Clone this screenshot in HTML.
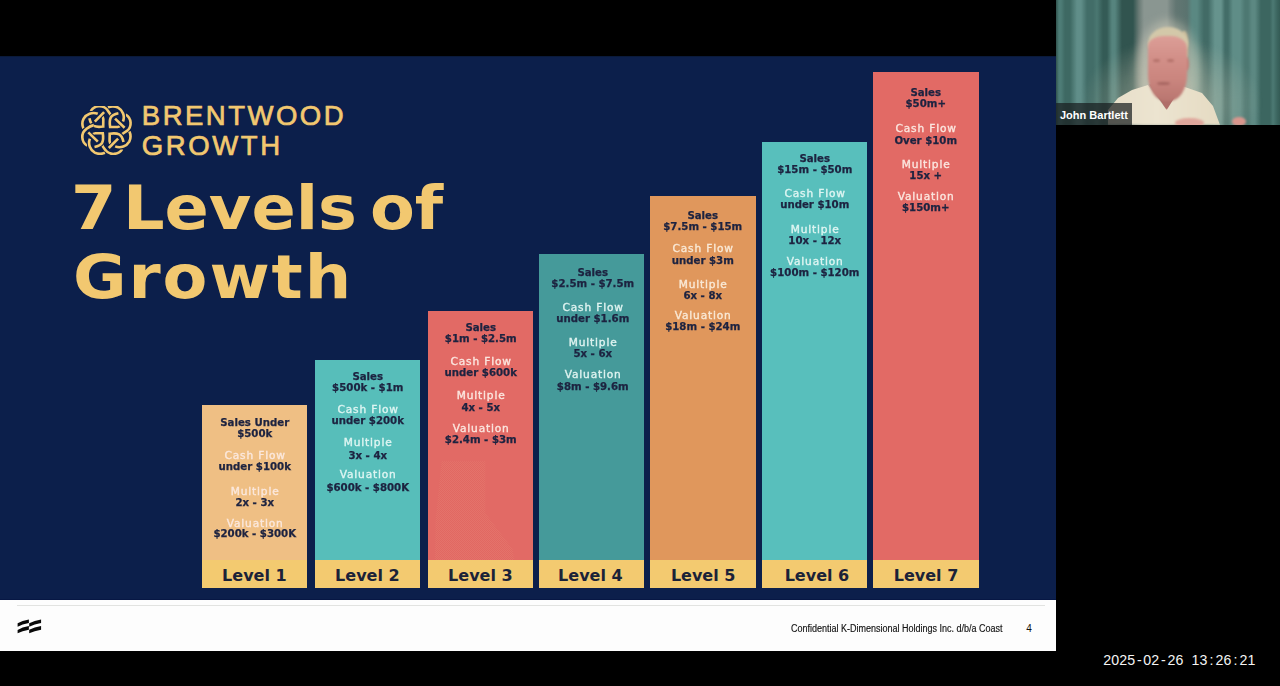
<!DOCTYPE html>
<html lang="en">
<head>
<meta charset="utf-8">
<title>7 Levels of Growth</title>
<style>
html,body{margin:0;padding:0}
body{width:1280px;height:686px;overflow:hidden;position:relative;background:#000;font-family:"Liberation Sans","DejaVu Sans",sans-serif}
.slide{position:absolute;left:0;top:56px;width:1056px;height:544px;background:#0c1f4b}
.footer{position:absolute;left:0;top:600px;width:1056px;height:51px;background:#fdfdfd}
.footer .rule{position:absolute;left:17px;top:5px;width:1028px;height:1px;background:#e2e3e1}
.footer .txt{position:absolute;left:791px;top:22.5px;font-size:10px;line-height:12px;color:#111;white-space:nowrap;transform:scaleX(0.9);transform-origin:0 0;-webkit-text-stroke:0.15px #111}
.footer .pg{position:absolute;left:1026.3px;top:22.5px;font-size:10px;line-height:12px;color:#111}
.bar{position:absolute;width:105.5px}
.bar div{position:absolute;left:0;width:100%;text-align:center;font-family:"DejaVu Sans",sans-serif;font-weight:bold;font-size:10.5px;line-height:12px;height:12px;white-space:nowrap}
.bar .v{color:#1d2340;font-size:9.8px;transform:scaleX(1.04);-webkit-text-stroke:0.25px #1d2340}
.bar .lb{color:#f6efe6;font-weight:normal;font-size:10px;letter-spacing:0.8px;text-indent:0.8px;-webkit-text-stroke:0.35px #f6efe6;transform:scaleX(1.06)}
.bar .ghost{position:absolute;left:0;top:0;width:100%;height:100%;background:repeating-conic-gradient(#e16862 0 25%,#e4736b 0 50%) 0 0/2px 2px;clip-path:polygon(14px 150px,57.7px 150px,57.7px 202px,85px 238px,86.5px 248.8px,7.5px 248.8px,8px 210px)}
.bar .band{position:absolute;left:0;bottom:0;top:auto;height:28px;background:#f3ca70;font-family:"DejaVu Sans",sans-serif;font-size:16px;line-height:32px;color:#1b2238}
.title{position:absolute;transform:scaleX(1.07);transform-origin:0 0;left:73px;font-family:"DejaVu Sans",sans-serif;font-weight:bold;font-size:61px;line-height:70px;color:#f2c870;white-space:nowrap}
.brand{position:absolute;left:141.8px;font-family:"Liberation Sans",sans-serif;font-size:27.5px;line-height:30px;color:#f2c870;white-space:nowrap;-webkit-text-stroke:0.7px #f2c870}
.cam{position:absolute;left:1056px;top:0;width:224px;height:125px;overflow:hidden;background:#44716b}
.cam .curt{position:absolute;inset:0;background:linear-gradient(to right,#31534e 0px,#4d7c76 3px,#4d7c76 5px,#3e6963 9px,#3e6963 14px,#608e89 21px,#608e89 25px,#426d68 31px,#426d68 37px,#4a7771 41px,#345b56 47px,#345b56 51px,#56847e 56px,#56847e 59px,#31544f 66px,#31544f 77px,#6a7b76 83px,#8a9691 88px,#8a9691 111px,#7a8884 114px,#627672 120px,#5a736f 131px,#5a8882 136px,#5a8882 141px,#426b66 148px,#426b66 152px,#66938d 159px,#66938d 165px,#436d68 169px,#436d68 172px,#5f8d87 177px,#5f8d87 184px,#4d7872 189px,#4d7872 192px,#5c8882 196px,#5c8882 199px,#3c6660 205px,#3c6660 214px,#4c7973 217px,#3c6660 221px,#345b55 224px);filter:blur(0.6px)}
.cam .glow{position:absolute;left:25px;top:25px;width:180px;height:130px;background:radial-gradient(ellipse 50% 50% at 50% 60%,rgba(210,205,185,0.7) 0%,rgba(195,195,175,0.35) 50%,rgba(190,190,170,0) 100%);filter:blur(2px)}
.cam .halo{position:absolute;left:80px;top:20px;width:64px;height:100px;border-radius:50%;background:rgba(215,210,190,0.45);filter:blur(5px)}
.cam .hair{position:absolute;left:92px;top:27px;width:40px;height:26px;border-radius:50% 50% 40% 40%/65% 65% 35% 35%;background:#d3c8a9;filter:blur(1px)}
.cam .hair2{position:absolute;left:124px;top:31px;width:8px;height:30px;border-radius:40%;background:#c8bb9a;filter:blur(0.9px)}
.cam .face{position:absolute;left:91.5px;top:35.5px;width:39px;height:65px;border-radius:40% 42% 45% 45%/16% 18% 40% 40%;background:linear-gradient(#dc9e97 0%,#d28f88 35%,#cb867f 65%,#b97670 100%);filter:blur(0.9px)}
.cam .ear{position:absolute;left:127px;top:57px;width:6px;height:14px;border-radius:50%;background:#c48079;filter:blur(0.8px)}
.cam .eye{position:absolute;width:7px;height:3px;border-radius:50%;background:#a8665f;opacity:0.7;filter:blur(1px)}
.cam .mouth{position:absolute;left:101px;top:82px;width:13px;height:2.5px;border-radius:50%;background:#9c5c58;opacity:0.7;filter:blur(0.8px)}
.cam .neck{position:absolute;left:93px;top:84px;width:34px;height:26px;background:#b06e69;clip-path:polygon(0 0,100% 0,52% 100%);filter:blur(0.8px)}
.cam .shirt{position:absolute;left:0;top:0;width:224px;height:125px;background:linear-gradient(to right,#e3d9c2 0%,#ece4d0 45%,#e6dcc4 70%,#dccfb3 100%);clip-path:polygon(52px 110px,62px 98px,76px 90px,92px 85px,110px 109px,126px 86px,146px 93px,157px 106px,164px 125px,52px 125px);filter:blur(0.8px)}
.cam .hand{position:absolute;border-radius:50%;background:#d9968d;filter:blur(1.2px)}
.name{position:absolute;left:0;top:103px;width:76px;height:22px;background:rgba(25,30,32,0.72)}
.name span{position:absolute;left:4px;top:4.5px;font-family:"Liberation Sans",sans-serif;font-weight:bold;font-size:11px;line-height:14px;color:#fff;white-space:nowrap}
.ts{position:absolute;left:1103.2px;top:650.5px;font-family:"Liberation Sans",sans-serif;font-size:14.2px;line-height:18px;color:#f4f4f4;white-space:nowrap}
.ts span{display:inline-block;width:8.02px;text-align:center}
</style>
</head>
<body>
<div class="slide"></div>
<div class="slide-top" style="position:absolute;left:0;top:56px;width:1056px;height:1px;background:#0a1a3a"></div>
<div class="slide-edge" style="position:absolute;left:0;top:599px;width:1056px;height:1px;background:#071744"></div>

<!-- logo knot -->
<svg style="position:absolute;left:79.6px;top:106.4px" width="53" preserveAspectRatio="none" height="48.3" viewBox="-26.1 -24.1 52.3 48.3" fill="none" stroke="#f2c870" stroke-width="2.6" stroke-linecap="butt"><g transform="rotate(0)"><path d="M -15.5 -19 C -12 -25 -3 -25.5 1 -20 C 3 -17.5 4.5 -15.5 5 -12.5" stroke="#0c1f4b" stroke-width="4.6"/><path d="M -15.5 -19 C -12 -25 -3 -25.5 1 -20 C 3 -17.5 4.5 -15.5 5 -12.5"/><path d="M -8.6 -16.3 C -14 -18.5 -20 -16 -22.5 -11.5 C -24.5 -7.5 -24 -4.5 -22.7 -1.5" stroke="#0c1f4b" stroke-width="4.6"/><path d="M -8.6 -16.3 C -14 -18.5 -20 -16 -22.5 -11.5 C -24.5 -7.5 -24 -4.5 -22.7 -1.5"/><path d="M -16.8 -11.8 C -16 -8 -15 -5.5 -12.5 -4.2 C -10 -3 -6 -3.2 -3.2 -3.6 L -3.1 -11 C -3.2 -12.5 -3.8 -13.5 -4.8 -14.3" stroke="#0c1f4b" stroke-width="4.6"/><path d="M -16.8 -11.8 C -16 -8 -15 -5.5 -12.5 -4.2 C -10 -3 -6 -3.2 -3.2 -3.6 L -3.1 -11 C -3.2 -12.5 -3.8 -13.5 -4.8 -14.3"/><path d="M -11.5 -8.5 L -2.3 -17.9" stroke="#0c1f4b" stroke-width="4.6"/><path d="M -11.5 -8.5 L -2.3 -17.9"/></g><g transform="rotate(90)"><path d="M -15.5 -19 C -12 -25 -3 -25.5 1 -20 C 3 -17.5 4.5 -15.5 5 -12.5" stroke="#0c1f4b" stroke-width="4.6"/><path d="M -15.5 -19 C -12 -25 -3 -25.5 1 -20 C 3 -17.5 4.5 -15.5 5 -12.5"/><path d="M -8.6 -16.3 C -14 -18.5 -20 -16 -22.5 -11.5 C -24.5 -7.5 -24 -4.5 -22.7 -1.5" stroke="#0c1f4b" stroke-width="4.6"/><path d="M -8.6 -16.3 C -14 -18.5 -20 -16 -22.5 -11.5 C -24.5 -7.5 -24 -4.5 -22.7 -1.5"/><path d="M -16.8 -11.8 C -16 -8 -15 -5.5 -12.5 -4.2 C -10 -3 -6 -3.2 -3.2 -3.6 L -3.1 -11 C -3.2 -12.5 -3.8 -13.5 -4.8 -14.3" stroke="#0c1f4b" stroke-width="4.6"/><path d="M -16.8 -11.8 C -16 -8 -15 -5.5 -12.5 -4.2 C -10 -3 -6 -3.2 -3.2 -3.6 L -3.1 -11 C -3.2 -12.5 -3.8 -13.5 -4.8 -14.3"/><path d="M -11.5 -8.5 L -2.3 -17.9" stroke="#0c1f4b" stroke-width="4.6"/><path d="M -11.5 -8.5 L -2.3 -17.9"/></g><g transform="rotate(180)"><path d="M -15.5 -19 C -12 -25 -3 -25.5 1 -20 C 3 -17.5 4.5 -15.5 5 -12.5" stroke="#0c1f4b" stroke-width="4.6"/><path d="M -15.5 -19 C -12 -25 -3 -25.5 1 -20 C 3 -17.5 4.5 -15.5 5 -12.5"/><path d="M -8.6 -16.3 C -14 -18.5 -20 -16 -22.5 -11.5 C -24.5 -7.5 -24 -4.5 -22.7 -1.5" stroke="#0c1f4b" stroke-width="4.6"/><path d="M -8.6 -16.3 C -14 -18.5 -20 -16 -22.5 -11.5 C -24.5 -7.5 -24 -4.5 -22.7 -1.5"/><path d="M -16.8 -11.8 C -16 -8 -15 -5.5 -12.5 -4.2 C -10 -3 -6 -3.2 -3.2 -3.6 L -3.1 -11 C -3.2 -12.5 -3.8 -13.5 -4.8 -14.3" stroke="#0c1f4b" stroke-width="4.6"/><path d="M -16.8 -11.8 C -16 -8 -15 -5.5 -12.5 -4.2 C -10 -3 -6 -3.2 -3.2 -3.6 L -3.1 -11 C -3.2 -12.5 -3.8 -13.5 -4.8 -14.3"/><path d="M -11.5 -8.5 L -2.3 -17.9" stroke="#0c1f4b" stroke-width="4.6"/><path d="M -11.5 -8.5 L -2.3 -17.9"/></g><g transform="rotate(270)"><path d="M -15.5 -19 C -12 -25 -3 -25.5 1 -20 C 3 -17.5 4.5 -15.5 5 -12.5" stroke="#0c1f4b" stroke-width="4.6"/><path d="M -15.5 -19 C -12 -25 -3 -25.5 1 -20 C 3 -17.5 4.5 -15.5 5 -12.5"/><path d="M -8.6 -16.3 C -14 -18.5 -20 -16 -22.5 -11.5 C -24.5 -7.5 -24 -4.5 -22.7 -1.5" stroke="#0c1f4b" stroke-width="4.6"/><path d="M -8.6 -16.3 C -14 -18.5 -20 -16 -22.5 -11.5 C -24.5 -7.5 -24 -4.5 -22.7 -1.5"/><path d="M -16.8 -11.8 C -16 -8 -15 -5.5 -12.5 -4.2 C -10 -3 -6 -3.2 -3.2 -3.6 L -3.1 -11 C -3.2 -12.5 -3.8 -13.5 -4.8 -14.3" stroke="#0c1f4b" stroke-width="4.6"/><path d="M -16.8 -11.8 C -16 -8 -15 -5.5 -12.5 -4.2 C -10 -3 -6 -3.2 -3.2 -3.6 L -3.1 -11 C -3.2 -12.5 -3.8 -13.5 -4.8 -14.3"/><path d="M -11.5 -8.5 L -2.3 -17.9" stroke="#0c1f4b" stroke-width="4.6"/><path d="M -11.5 -8.5 L -2.3 -17.9"/></g></svg>
<div class="brand" style="top:101.2px;letter-spacing:2.5px">BRENTWOOD</div>
<div class="brand" style="top:130.6px;letter-spacing:2.6px">GROWTH</div>

<div class="title" style="top:172.7px;left:71.4px">7</div>
<div class="title" style="top:172.7px;left:123.1px;letter-spacing:0px">Levels</div>
<div class="title" style="top:172.7px;left:369.7px;letter-spacing:0px">of</div>
<div class="title" style="top:242.3px;left:72.8px;letter-spacing:1.8px">Growth</div>

<div class="bar" style="left:201.6px;top:404.6px;height:183.4px;background:#efbf84">
<div class="v" style="top:12.4px">Sales Under</div>
<div class="v" style="top:23.0px">$500k</div>
<div class="lb" style="top:45.9px;color:#fbe8dd;-webkit-text-stroke-color:#fbe8dd">Cash Flow</div>
<div class="v" style="top:56.7px">under $100k</div>
<div class="lb" style="top:81.0px;color:#fbe8dd;-webkit-text-stroke-color:#fbe8dd">Multiple</div>
<div class="v" style="top:92.0px">2x - 3x</div>
<div class="lb" style="top:113.2px;color:#fbe8dd;-webkit-text-stroke-color:#fbe8dd">Valuation</div>
<div class="v" style="top:123.7px">$200k - $300K</div>
<div class="band"><span>Level 1</span></div>
</div>
<div class="bar" style="left:314.6px;top:360.3px;height:227.7px;background:#57beba">
<div class="v" style="top:10.4px">Sales</div>
<div class="v" style="top:21.7px">$500k - $1m</div>
<div class="lb" style="top:43.7px;color:#def5f2;-webkit-text-stroke-color:#def5f2">Cash Flow</div>
<div class="v" style="top:54.3px">under $200k</div>
<div class="lb" style="top:77.0px;color:#def5f2;-webkit-text-stroke-color:#def5f2">Multiple</div>
<div class="v" style="top:89.4px">3x - 4x</div>
<div class="lb" style="top:109.2px;color:#def5f2;-webkit-text-stroke-color:#def5f2">Valuation</div>
<div class="v" style="top:122.1px">$600k - $800K</div>
<div class="band"><span>Level 2</span></div>
</div>
<div class="bar" style="left:427.6px;top:311.2px;height:276.8px;background:#e26a65">
<div class="v" style="top:10.6px">Sales</div>
<div class="v" style="top:21.6px">$1m - $2.5m</div>
<div class="lb" style="top:44.7px;color:#fbe6df;-webkit-text-stroke-color:#fbe6df">Cash Flow</div>
<div class="v" style="top:55.7px">under $600k</div>
<div class="lb" style="top:79.3px;color:#fbe6df;-webkit-text-stroke-color:#fbe6df">Multiple</div>
<div class="v" style="top:91.2px">4x - 5x</div>
<div class="lb" style="top:112.0px;color:#fbe6df;-webkit-text-stroke-color:#fbe6df">Valuation</div>
<div class="v" style="top:123.0px">$2.4m - $3m</div>
<div class="ghost"></div>
<div class="band"><span>Level 3</span></div>
</div>
<div class="bar" style="left:538.6px;top:254.1px;height:333.9px;background:#459a9a">
<div class="v" style="top:13.1px;left:1.4px">Sales</div>
<div class="v" style="top:24.3px;left:1.4px">$2.5m - $7.5m</div>
<div class="lb" style="top:48.0px;left:1.4px;color:#dff3f0;-webkit-text-stroke-color:#dff3f0">Cash Flow</div>
<div class="v" style="top:59.2px;left:1.4px">under $1.6m</div>
<div class="lb" style="top:83.3px;left:1.4px;color:#dff3f0;-webkit-text-stroke-color:#dff3f0">Multiple</div>
<div class="v" style="top:94.3px;left:1.4px">5x - 6x</div>
<div class="lb" style="top:114.9px;left:1.4px;color:#dff3f0;-webkit-text-stroke-color:#dff3f0">Valuation</div>
<div class="v" style="top:126.6px;left:1.4px">$8m - $9.6m</div>
<div class="band" style="padding-right:2px;box-sizing:border-box"><span>Level 4</span></div>
</div>
<div class="bar" style="left:650.4px;top:195.6px;height:392.4px;background:#e0975c">
<div class="v" style="top:14.2px">Sales</div>
<div class="v" style="top:25.5px">$7.5m - $15m</div>
<div class="lb" style="top:47.7px;color:#f9e9d6;-webkit-text-stroke-color:#f9e9d6">Cash Flow</div>
<div class="v" style="top:59.1px">under $3m</div>
<div class="lb" style="top:83.2px;color:#f9e9d6;-webkit-text-stroke-color:#f9e9d6">Multiple</div>
<div class="v" style="top:94.2px">6x - 8x</div>
<div class="lb" style="top:114.8px;color:#f9e9d6;-webkit-text-stroke-color:#f9e9d6">Valuation</div>
<div class="v" style="top:125.8px">$18m - $24m</div>
<div class="band"><span>Level 5</span></div>
</div>
<div class="bar" style="left:761.7px;top:141.7px;height:446.3px;background:#58bfbc">
<div class="v" style="top:11.6px">Sales</div>
<div class="v" style="top:22.6px">$15m - $50m</div>
<div class="lb" style="top:46.5px;color:#def5f2;-webkit-text-stroke-color:#def5f2">Cash Flow</div>
<div class="v" style="top:57.7px">under $10m</div>
<div class="lb" style="top:82.2px;color:#def5f2;-webkit-text-stroke-color:#def5f2">Multiple</div>
<div class="v" style="top:93.8px">10x - 12x</div>
<div class="lb" style="top:114.2px;color:#def5f2;-webkit-text-stroke-color:#def5f2">Valuation</div>
<div class="v" style="top:125.0px">$100m - $120m</div>
<div class="band" style="padding-left:5.0px;box-sizing:border-box"><span>Level 6</span></div>
</div>
<div class="bar" style="left:873.3px;top:71.7px;height:516.3px;background:#e26a65">
<div class="v" style="top:15.2px">Sales</div>
<div class="v" style="top:26.6px">$50m+</div>
<div class="lb" style="top:51.7px;color:#fbe6df;-webkit-text-stroke-color:#fbe6df">Cash Flow</div>
<div class="v" style="top:63.3px">Over $10m</div>
<div class="lb" style="top:87.0px;color:#fbe6df;-webkit-text-stroke-color:#fbe6df">Multiple</div>
<div class="v" style="top:98.0px">15x +</div>
<div class="lb" style="top:119.0px;color:#fbe6df;-webkit-text-stroke-color:#fbe6df">Valuation</div>
<div class="v" style="top:129.9px">$150m+</div>
<div class="band"><span>Level 7</span></div>
</div>

<div class="footer">
  <div class="rule"></div>
  <svg style="position:absolute;left:17.2px;top:19.3px" width="24.6" height="15.2" viewBox="0 0 24 15" preserveAspectRatio="none">
    <path d="M0.6 4.3 Q5 1.6 11.6 0.5 L11.6 4 Q5 5.2 0.6 7.6 Z M11.9 4.2 Q17 1.6 23.5 0.5 L23.5 4 Q17 5.2 11.9 7.6 Z" fill="#0a0a0a"/>
    <path d="M0.6 10.8 Q5 8.1 11.6 7 L11.6 10.5 Q5 11.7 0.6 14.1 Z M11.9 10.7 Q17 8.1 23.5 7 L23.5 10.5 Q17 11.7 11.9 14.1 Z" fill="#0a0a0a"/>
  </svg>
  <div class="txt">Confidential K-Dimensional Holdings Inc. d/b/a Coast</div>
  <div class="pg">4</div>
</div>

<div class="cam">
  <div class="curt"></div>
  <div class="glow"></div>
  <div class="halo"></div>
  <div class="shirt"></div>
  <div class="neck"></div>
  <div class="hair2"></div>
  <div class="ear"></div>
  <div class="hair"></div>
  <div class="face"></div>
  <div class="eye" style="left:97px;top:59px"></div>
  <div class="eye" style="left:111px;top:59px"></div>
  <div class="mouth"></div>
  <div class="hand" style="left:119px;top:117.5px;width:29px;height:10px;background:#dfa69b"></div>
  <div class="hand" style="left:176px;top:117px;width:14px;height:9px"></div>
  <div class="name"><span>John Bartlett</span></div>
</div>

<div class="ts"><span>2</span><span>0</span><span>2</span><span>5</span><span>-</span><span>0</span><span>2</span><span>-</span><span>2</span><span>6</span><span>&nbsp;</span><span>1</span><span>3</span><span>:</span><span>2</span><span>6</span><span>:</span><span>2</span><span>1</span></div>
</body>
</html>
